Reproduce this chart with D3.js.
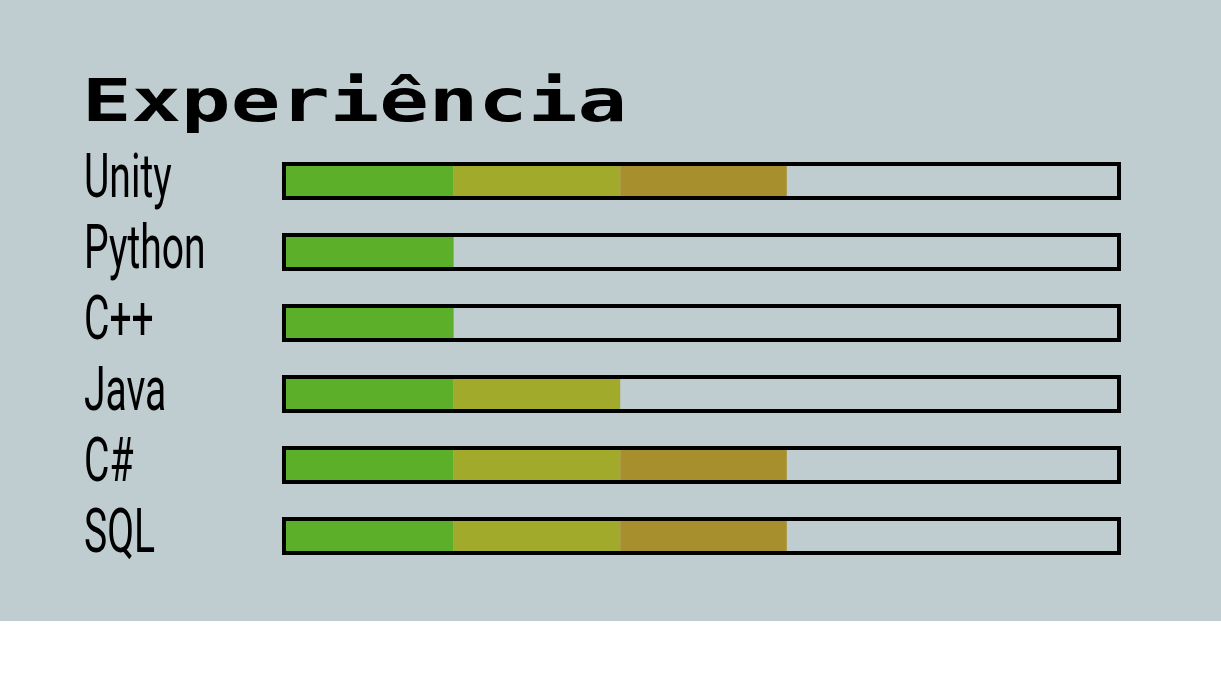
<!DOCTYPE html>
<html>
<head>
<meta charset="utf-8">
<script src="https://cdn.jsdelivr.net/npm/d3@7"></script>
<style>
  html, body { margin: 0; padding: 0; background: #ffffff; }
  svg { display: block; }
</style>
</head>
<body>
<script>
// ---- data ----
const title = "Experiência";
const categories = ["Unity", "Python", "C++", "Java", "C#", "SQL"];
const levels = [3, 1, 1, 2, 3, 3];
const maxLevel = 5;
const levelColors = ["#5caf28", "#a1aa2b", "#a88f2e"];

// ---- layout ----
const W = 1221, H = 681;
const svg = d3.select("body").append("svg").attr("width", W).attr("height", H);

svg.append("rect").attr("x", 0).attr("y", 0).attr("width", W).attr("height", 621)
  .attr("fill", "#bfccd0");

const x = d3.scaleLinear().domain([0, maxLevel]).range([287, 1120]);
const y = d3.scalePoint().domain(categories).range([181, 536]);
const barH = 30;
const sw = 4;

svg.append("text")
  .attr("x", 82).attr("y", 121)
  .attr("font-family", "'DejaVu Sans Mono', monospace")
  .attr("font-weight", "bold")
  .attr("font-size", 58)
  .attr("textLength", 545)
  .attr("lengthAdjust", "spacingAndGlyphs")
  .attr("fill", "#000")
  .text(title);

const rows = svg.append("g").selectAll("g")
  .data(categories.map((c, i) => ({ cat: c, level: levels[i] })))
  .join("g")
  .attr("transform", d => `translate(0,${y(d.cat)})`);

rows.append("text")
  .attr("transform", "translate(84,16) scale(0.63,1)")
  .attr("font-family", "Roboto, 'Liberation Sans', sans-serif")
  .attr("font-weight", 400)
  .attr("font-size", 62)
  .attr("fill", "#000")
  .text(d => d.cat);

rows.selectAll("rect.seg")
  .data(d => d3.range(d.level))
  .join("rect")
  .attr("class", "seg")
  .attr("x", k => x(k) - (k === 0 ? 1 : 0))
  .attr("width", k => x(k + 1) - x(k) + (k === 0 ? 1 : 0))
  .attr("y", -barH / 2)
  .attr("height", barH)
  .attr("fill", k => levelColors[k]);

rows.append("rect")
  .attr("x", x(0) - 3)
  .attr("y", -barH / 2 - sw / 2)
  .attr("width", x(maxLevel) - x(0) + 2)
  .attr("height", barH + sw)
  .attr("fill", "none")
  .attr("stroke", "#000")
  .attr("stroke-width", sw);
</script>
</body>
</html>
